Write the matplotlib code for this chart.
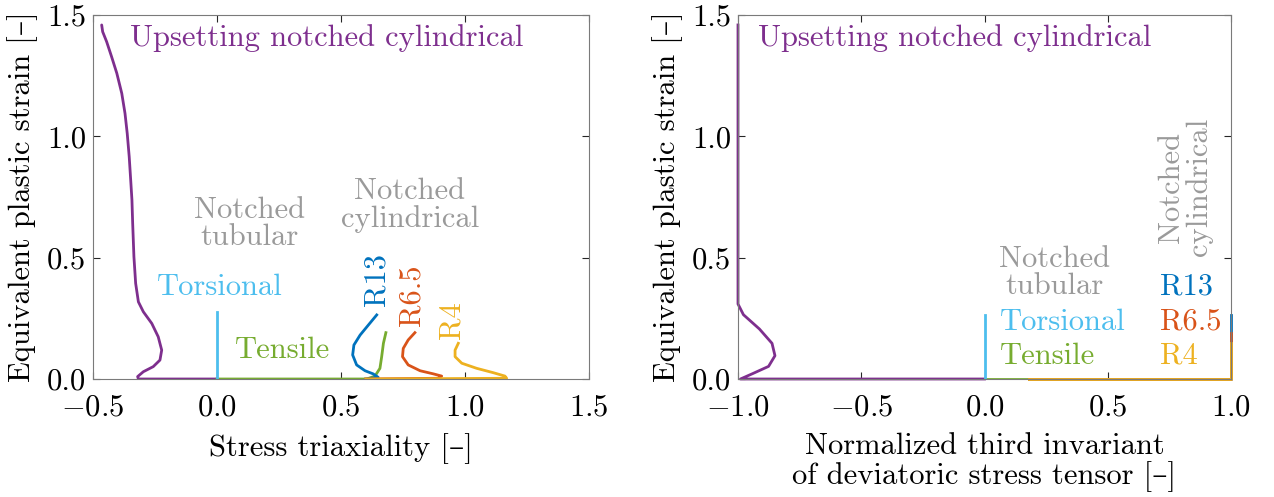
import matplotlib
matplotlib.use("Agg")
import matplotlib.pyplot as plt

plt.rcParams["font.family"] = ["cmr10", "DejaVu Serif"]
plt.rcParams["mathtext.fontset"] = "cm"
plt.rcParams["axes.formatter.use_mathtext"] = True
plt.rcParams["axes.unicode_minus"] = True

# MATLAB-style palette
C_PURPLE = "#7E2F8E"
C_LBLUE = "#4DBEEE"
C_GREEN = "#77AC30"
C_BLUE = "#0072BD"
C_ORANGE = "#D95319"
C_YELLOW = "#EDB120"
C_GRAY = "#9A9A9A"

# ---- Stress triaxiality vs equivalent plastic strain ----
upset_eta = [-0.465, -0.461, -0.445, -0.425, -0.404, -0.384, -0.371, -0.362, -0.354,
             -0.348, -0.343, -0.340, -0.335, -0.328, -0.317, -0.297, -0.263, -0.237,
             -0.223, -0.230, -0.257, -0.297, -0.320, -0.317, 0.0]
upset_eps = [1.459, 1.431, 1.390, 1.328, 1.260, 1.177, 1.095, 1.012, 0.916,
             0.820, 0.738, 0.641, 0.504, 0.394, 0.318, 0.277, 0.229, 0.174,
             0.119, 0.078, 0.051, 0.030, 0.010, 0.0, 0.0]

tors_eta = [0.0, 0.0]
tors_eps = [0.0, 0.277]

tens_eta = [0.0, 0.604, 0.637, 0.657, 0.664, 0.671, 0.681]
tens_eps = [0.0, 0.0, 0.012, 0.044, 0.092, 0.147, 0.191]

r13_eta = [0.60, 0.650, 0.630, 0.597, 0.563, 0.547, 0.552, 0.577, 0.610, 0.644]
r13_eps = [0.0, 0.007, 0.021, 0.034, 0.058, 0.099, 0.140, 0.181, 0.222, 0.264]

r65_eta = [0.60, 0.892, 0.906, 0.873, 0.819, 0.771, 0.748, 0.751, 0.771, 0.798]
r65_eps = [0.0, 0.003, 0.012, 0.021, 0.034, 0.058, 0.092, 0.126, 0.161, 0.191]

r4_eta = [0.60, 1.168, 1.161, 1.114, 1.047, 0.987, 0.960, 0.960, 0.973]
r4_eps = [0.0, 0.003, 0.012, 0.026, 0.044, 0.065, 0.092, 0.119, 0.147]

# ---- Normalized third invariant vs equivalent plastic strain ----
upset_xi = [-1.0, -1.0, -0.978, -0.913, -0.862, -0.850, -0.876, -0.941, -0.99, 0.0]
upset_xi_eps = [1.459, 0.309, 0.265, 0.206, 0.147, 0.096, 0.052, 0.022, 0.0, 0.0]

tors_xi = [0.0, 0.0]
tors_xi_eps = [0.0, 0.265]

tens_xi = [0.0, 0.181]
tens_xi_eps = [0.0, 0.0]

r13_xi = [0.181, 1.0, 1.0]
r13_xi_eps = [0.0, 0.0, 0.264]
r65_xi = [0.181, 1.0, 1.0]
r65_xi_eps = [0.0, 0.0, 0.191]
r4_xi = [0.181, 1.0, 1.0]
r4_xi_eps = [0.0, 0.0, 0.147]

xticks_left = [-0.5, 0.0, 0.5, 1.0, 1.5]
xticks_right = [-1.0, -0.5, 0.0, 0.5, 1.0]
yticks = [0.0, 0.5, 1.0, 1.5]

FS = 22
LW = 2.0

fig = plt.figure(figsize=(12.74, 4.97), dpi=100)
axL = fig.add_axes([93 / 1274, 1 - 379 / 497, 496 / 1274, 364 / 497])
axR = fig.add_axes([738 / 1274, 1 - 379 / 497, 493 / 1274, 364 / 497])


def style(ax, xt):
    ax.set_ylim(0, 1.5)
    ax.set_yticks(yticks)
    ax.set_xticks(xt)
    ax.set_yticklabels([f"{v:.1f}" for v in yticks])
    ax.set_xticklabels([f"${v:.1f}$" for v in xt])
    ax.tick_params(direction="in", top=True, right=True, length=5,
                   width=0.8, color="#262626", labelsize=FS)
    ax.tick_params(axis="y", pad=5)
    ax.tick_params(axis="x", pad=11)
    for s in ax.spines.values():
        s.set_color("#7a7a7a")
        s.set_linewidth(0.8)
    ax.set_ylabel("Equivalent plastic strain [–]", fontsize=FS, labelpad=6)


# left panel
axL.plot(upset_eta, upset_eps, color=C_PURPLE, lw=LW, solid_capstyle="round")
axL.plot(tens_eta, tens_eps, color=C_GREEN, lw=LW)
axL.plot(tors_eta, tors_eps, color=C_LBLUE, lw=LW)
axL.plot(r13_eta, r13_eps, color=C_BLUE, lw=LW)
axL.plot(r65_eta, r65_eps, color=C_ORANGE, lw=LW)
axL.plot(r4_eta, r4_eps, color=C_YELLOW, lw=LW)
axL.set_xlim(-0.5, 1.5)
style(axL, xticks_left)
axL.set_xlabel("Stress triaxiality [–]", fontsize=FS, labelpad=8)

axL.text(-0.35, 1.405, "Upsetting notched cylindrical", color=C_PURPLE,
         fontsize=FS, ha="left", va="center")
axL.text(0.133, 0.64, "Notched\ntubular", color=C_GRAY, fontsize=FS,
         ha="center", va="center", multialignment="center", linespacing=1.0)
axL.text(0.012, 0.379, "Torsional", color=C_LBLUE, fontsize=FS,
         ha="center", va="center")
axL.text(0.266, 0.12, "Tensile", color=C_GREEN, fontsize=FS,
         ha="center", va="center")
axL.text(0.778, 0.717, "Notched\ncylindrical", color=C_GRAY, fontsize=FS,
         ha="center", va="center", multialignment="center", linespacing=1.0)
axL.text(0.645, 0.41, "R13", color=C_BLUE, fontsize=FS, rotation=90,
         ha="center", va="center")
axL.text(0.786, 0.346, "R6.5", color=C_ORANGE, fontsize=FS, rotation=90,
         ha="center", va="center")
axL.text(0.948, 0.243, "R4", color=C_YELLOW, fontsize=FS, rotation=90,
         ha="center", va="center")

# right panel
axR.plot(upset_xi, upset_xi_eps, color=C_PURPLE, lw=LW, clip_on=False)
axR.plot(tens_xi, tens_xi_eps, color=C_GREEN, lw=LW)
axR.plot(tors_xi, tors_xi_eps, color=C_LBLUE, lw=LW)
axR.plot(r13_xi, r13_xi_eps, color=C_BLUE, lw=LW, clip_on=False)
axR.plot(r65_xi, r65_xi_eps, color=C_ORANGE, lw=LW, clip_on=False)
axR.plot(r4_xi, r4_xi_eps, color=C_YELLOW, lw=LW, clip_on=False)
axR.set_xlim(-1.0, 1.0)
style(axR, xticks_right)
axR.set_xlabel("Normalized third invariant\nof deviatoric stress tensor [–]",
               fontsize=FS, labelpad=8, linespacing=1.05)

axR.text(-0.92, 1.405, "Upsetting notched cylindrical", color=C_PURPLE,
         fontsize=FS, ha="left", va="center")
axR.text(0.286, 0.437, "Notched\ntubular", color=C_GRAY, fontsize=FS,
         ha="center", va="center", multialignment="center", linespacing=1.0)
axR.text(0.063, 0.235, "Torsional", color=C_LBLUE, fontsize=FS,
         ha="left", va="center")
axR.text(0.063, 0.095, "Tensile", color=C_GREEN, fontsize=FS,
         ha="left", va="center")
axR.text(0.813, 0.79, "Notched\ncylindrical", color=C_GRAY, fontsize=FS,
         rotation=90, ha="center", va="center", multialignment="center",
         linespacing=1.0)
axR.text(0.712, 0.379, "R13", color=C_BLUE, fontsize=FS, ha="left", va="center")
axR.text(0.712, 0.235, "R6.5", color=C_ORANGE, fontsize=FS, ha="left", va="center")
axR.text(0.712, 0.095, "R4", color=C_YELLOW, fontsize=FS, ha="left", va="center")

fig.savefig("out.png", dpi=100)
